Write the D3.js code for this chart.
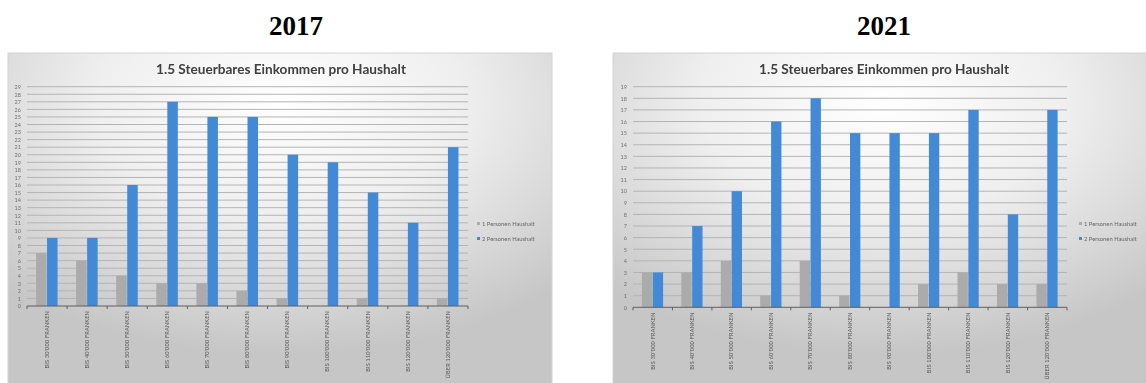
<!DOCTYPE html>
<html>
<head>
<meta charset="utf-8">
<script src="https://cdn.jsdelivr.net/npm/d3@7"></script>
<style>
  html, body { margin: 0; padding: 0; background: #fff; }
  svg { display: block; }
</style>
</head>
<body>
<svg id="chart" width="1146" height="383"></svg>
<script>
// Income brackets shown on the x axis of each year's chart
const categories2017 = [
  "BIS 30'000 FRANKEN", "BIS 40'000 FRANKEN", "BIS 50'000 FRANKEN", "BIS 60'000 FRANKEN",
  "BIS 70'000 FRANKEN", "BIS 80'000 FRANKEN", "BIS 90'000 FRANKEN", "BIS 100'000 FRANKEN",
  "BIS 110'000 FRANKEN", "BIS 120'000 FRANKEN", "ÜBER 120'000 FRANKEN"
];
const categories2021 = [
  "BIS 30'000 FRANKEN", "BIS 40'000 FRANKEN", "BIS 50'000 FRANKEN", "BIS 60'000 FRANKEN",
  "BIS 70'000 FRANKEN", "BIS 80'000 FRANKEN", "BIS 90'000 FRANKEN", "BIS 100'000 FRANKEN",
  "BIS 110'000 FRANKEN", "BIS 120'000 FRANKEN", "ÜBER 120'000 FRANKEN"
];
const seriesNames = ["1 Personen Haushalt", "2 Personen Haushalt"];

// Household counts per bracket
const onePerson2017 = [7, 6, 4, 3, 3, 2, 1, 0, 1, 0, 1];
const twoPerson2017 = [9, 9, 16, 27, 25, 25, 20, 19, 15, 11, 21];
const onePerson2021 = [3, 3, 4, 1, 4, 1, 0, 2, 3, 2, 2];
const twoPerson2021 = [3, 7, 10, 16, 18, 15, 15, 15, 17, 8, 17];

const yMax2017 = 29;
const yMax2021 = 19;

const chartTitle = "1.5 Steuerbares Einkommen pro Haushalt";
const seriesColors = ["#ababab", "#4389d6"];

const svg = d3.select("#chart");
const defs = svg.append("defs");

const grad = defs.append("radialGradient")
  .attr("id", "panelBg").attr("cx", "50%").attr("cy", "15%").attr("r", "75%");
grad.append("stop").attr("offset", "0%").attr("stop-color", "#ffffff");
grad.append("stop").attr("offset", "45%").attr("stop-color", "#efefef");
grad.append("stop").attr("offset", "100%").attr("stop-color", "#c6c6c6");

defs.append("filter").attr("id", "soft")
  .append("feGaussianBlur").attr("stdDeviation", 0.65);

function drawPanel(cfg) {
  // Year heading above the chart
  svg.append("text")
    .attr("x", cfg.headX).attr("y", 35)
    .attr("text-anchor", "middle")
    .attr("font-family", "'Liberation Serif', 'Times New Roman', serif")
    .attr("font-weight", "bold").attr("font-size", 27)
    .attr("fill", "#000")
    .text(cfg.year);

  const g = svg.append("g").attr("filter", "url(#soft)");

  g.append("rect")
    .attr("x", cfg.box[0]).attr("y", cfg.box[1])
    .attr("width", cfg.box[2]).attr("height", cfg.box[3])
    .attr("fill", "url(#panelBg)")
    .attr("stroke", "#d4d4d4").attr("stroke-width", 1);

  g.append("text")
    .attr("x", cfg.titleX).attr("y", 73.5)
    .attr("text-anchor", "middle")
    .attr("font-family", "Lato, 'Open Sans', sans-serif")
    .attr("font-weight", "bold").attr("font-size", 13.6)
    .attr("fill", "#404040")
    .text(chartTitle);

  const x = d3.scaleBand().domain(cfg.categories).range(cfg.xRange).padding(0);
  const x1 = d3.scaleBand().domain(seriesNames).range([0, x.bandwidth()])
    .paddingInner(0).paddingOuter(0.82);
  const y = d3.scaleLinear().domain([0, cfg.yMax]).range(cfg.yRange);

  // Horizontal gridlines
  g.append("g")
    .selectAll("line")
    .data(d3.range(1, cfg.yMax + 1))
    .join("line")
    .attr("x1", cfg.xRange[0]).attr("x2", cfg.xRange[1])
    .attr("y1", d => y(d)).attr("y2", d => y(d))
    .attr("stroke", "#b4b4b4").attr("stroke-width", 1);

  // Y axis
  const yAxis = d3.axisLeft(y).ticks(cfg.yMax).tickSize(0).tickPadding(6);
  const ya = g.append("g").attr("transform", `translate(${cfg.xRange[0]},0)`).call(yAxis);
  ya.select(".domain").remove();
  ya.selectAll("text")
    .attr("font-family", "Lato, sans-serif").attr("font-size", 5.5)
    .attr("fill", "#707070");

  // Bars
  const rows = cfg.categories.map((c, i) => ({ cat: c, vals: [cfg.one[i], cfg.two[i]] }));
  g.append("g")
    .selectAll("g")
    .data(rows)
    .join("g")
    .attr("transform", d => `translate(${x(d.cat)},0)`)
    .selectAll("rect")
    .data(d => d.vals.map((v, k) => ({ key: seriesNames[k], v, k })))
    .join("rect")
    .attr("x", d => x1(d.key))
    .attr("width", x1.bandwidth() - 0.5)
    .attr("y", d => y(d.v))
    .attr("height", d => y(0) - y(d.v))
    .attr("fill", d => seriesColors[d.k]);

  // X axis with category-boundary ticks
  const xa = g.append("g").attr("transform", `translate(0,${y(0)})`);
  xa.append("line")
    .attr("x1", cfg.xRange[0]).attr("x2", cfg.xRange[1])
    .attr("stroke", "#5f5f5f").attr("stroke-width", 1);
  xa.selectAll("line.tick")
    .data(cfg.categories.concat(["__end"]))
    .join("line").attr("class", "tick")
    .attr("x1", (d, i) => cfg.xRange[0] + i * x.step())
    .attr("x2", (d, i) => cfg.xRange[0] + i * x.step())
    .attr("y1", 0).attr("y2", 3)
    .attr("stroke", "#5f5f5f");
  xa.selectAll("text")
    .data(cfg.categories)
    .join("text")
    .attr("transform", d => `translate(${x(d) + x.bandwidth() / 2 + 1.8},5) rotate(-90)`)
    .attr("text-anchor", "end")
    .attr("font-family", "Lato, sans-serif").attr("font-size", 5.5)
    .attr("letter-spacing", 0.22)
    .attr("fill", "#555")
    .text(d => d);

  // Legend
  const lg = g.append("g").attr("transform", `translate(${cfg.legend[0]},${cfg.legend[1]})`);
  seriesNames.forEach((s, i) => {
    lg.append("rect").attr("x", 0).attr("y", i * 15 - 2).attr("width", 3).attr("height", 3)
      .attr("fill", seriesColors[i]);
    lg.append("text").attr("x", 5).attr("y", i * 15 + 1.8)
      .attr("font-family", "Lato, sans-serif").attr("font-size", 5.8)
      .attr("fill", "#666").text(s);
  });
}

drawPanel({
  year: "2017", headX: 296,
  box: [8, 53, 544, 335], titleX: 281,
  categories: categories2017, one: onePerson2017, two: twoPerson2017,
  yMax: yMax2017, xRange: [27, 468], yRange: [306, 86.7],
  legend: [477, 224]
});

drawPanel({
  year: "2021", headX: 884,
  box: [613, 53, 540, 335], titleX: 884,
  categories: categories2021, one: onePerson2021, two: twoPerson2021,
  yMax: yMax2021, xRange: [633, 1067], yRange: [307.3, 86.7],
  legend: [1079, 224]
});
</script>
</body>
</html>
